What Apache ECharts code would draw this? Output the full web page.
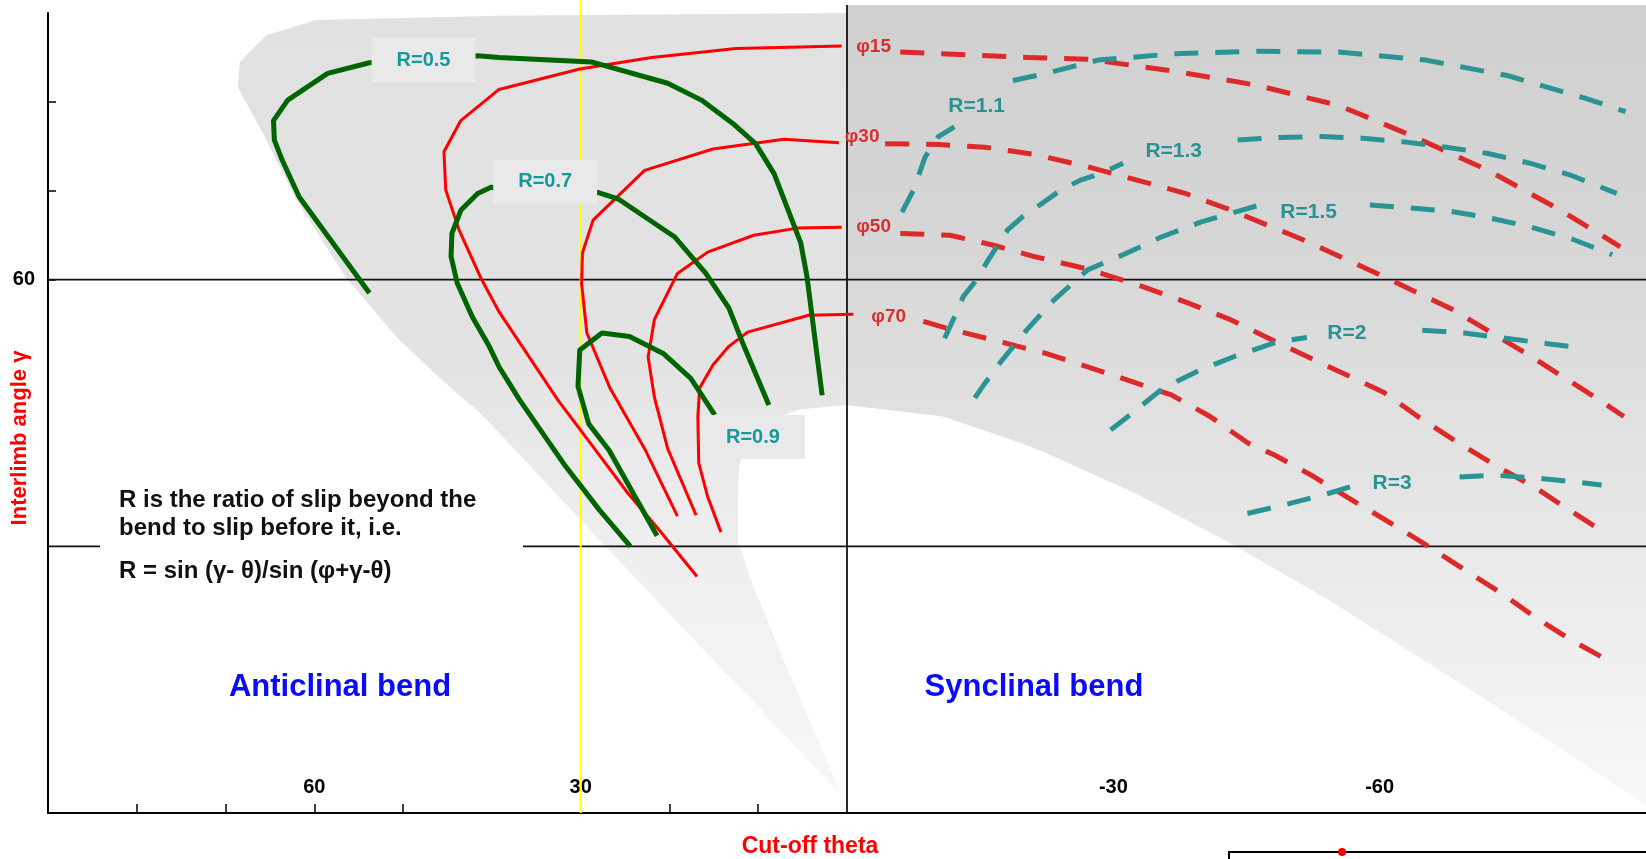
<!DOCTYPE html>
<html>
<head>
<meta charset="utf-8">
<title>Cut-off theta vs interlimb angle</title>
<script src="https://cdn.jsdelivr.net/npm/echarts@6/dist/echarts.min.js"></script>
<style>
html, body { margin: 0; padding: 0; background: #fff; }
#main { width: 1646px; height: 859px; }
</style>
</head>
<body>
<div id="main"></div>
<script>
// points are [theta, gamma]; null = break in a dashed curve (where its label sits)
const greenR05 = [[53.8,58.5],[61.7,69.3],[63.6,73.4],[64.5,75.7],[64.6,77.9],[63.0,80.2],[58.5,83.2],[53.8,84.4],[41.6,85.2],[39.2,85.0],[28.8,84.5],[20.2,82.1],[16.4,80.2],[12.9,77.6],[10.3,75.3],[8.2,71.9],[5.2,64.1],[4.5,60.3],[2.8,47.0]];
const greenR07 = [[24.4,30.0],[27.9,34.1],[31.7,39.0],[36.9,46.5],[39.2,50.2],[40.3,52.5],[42.2,55.8],[43.9,59.6],[44.6,62.6],[44.5,65.2],[43.5,67.8],[41.6,69.7],[40.1,70.4],[28.0,69.8],[25.8,69.1],[19.4,64.8],[15.9,60.7],[13.3,56.8],[11.6,52.5],[8.8,45.9]];
const greenR09 = [[21.4,31.2],[26.8,40.8],[29.1,43.8],[30.3,48.0],[30.1,52.1],[27.6,54.0],[24.5,53.6],[20.7,51.7],[17.6,48.9],[14.9,44.8]];

const redPhi15 = [[16.9,26.6],[21.2,31.9],[24.7,36.0],[28.3,40.8],[32.6,46.5],[39.2,56.4],[41.2,60.1],[43.7,65.6],[45.2,70.1],[45.4,74.4],[43.5,77.9],[39.2,81.4],[30.1,83.7],[22.0,85.0],[12.5,86.0],[0.6,86.3]];
const redPhi30 = [[19.1,33.4],[22.7,40.8],[26.7,47.8],[29.3,54.0],[29.9,59.6],[29.8,63.0],[28.6,66.7],[22.8,72.3],[15.1,74.7],[7.1,75.8],[0.9,75.4]];
const redPhi50 = [[17.0,33.5],[20.2,41.0],[21.7,46.8],[22.4,51.3],[21.7,55.5],[19.1,60.7],[15.7,63.1],[10.5,65.0],[5.6,65.8],[0.6,65.9]];
const redPhi70 = [[14.2,31.6],[15.7,35.6],[16.7,39.4],[16.8,44.6],[16.6,47.8],[15.1,50.4],[13.3,52.5],[11.2,54.1],[4.3,56.0],[-0.7,56.1]];

const dashPhi15 = [[-6.0,85.6],[-13.4,85.3],[-20.2,85.0],[-27.1,84.8],[-36.6,83.5],[-46.0,81.9],[-55.4,79.6],[-63.6,76.2],[-72.2,72.3],[-80.4,67.8],[-87.1,63.7]];
const dashPhi30 = [[-4.3,75.3],[-10.3,75.2],[-15.5,74.9],[-21.1,74.1],[-27.1,72.7],[-33.4,71.0],[-38.1,69.7],[-42.8,68.0],[-51.1,64.6],[-59.7,60.7],[-68.3,56.6],[-76.5,51.7],[-84.7,46.5],[-87.5,44.6]];
const dashPhi50 = [[-6.0,65.2],[-11.6,65.0],[-16.4,63.9],[-21.1,62.6],[-27.1,61.2],[-33.4,59.2],[-38.1,57.5],[-43.2,55.5],[-47.9,53.2],[-55.8,49.5],[-60.5,47.3],[-64.3,44.6],[-68.3,42.0],[-73.2,39.0],[-77.4,36.7],[-80.1,34.9],[-85.7,31.3]];
const dashPhi70 = [[-8.6,55.3],[-12.1,54.3],[-18.1,52.8],[-22.4,51.7],[-27.1,50.2],[-32.2,48.5],[-36.6,47.0],[-40.9,44.6],[-45.2,41.6],[-48.1,40.3],[-52.3,38.0],[-57.4,34.9],[-61.6,32.4],[-65.8,29.8],[-69.5,27.4],[-73.6,24.8],[-77.4,22.1],[-81.5,19.5],[-86.2,16.9]];

const tealR11 = [[-6.2,67.6],[-7.5,70.1],[-8.8,73.8],[-10.3,76.1],[-12.1,77.2],null,[-18.7,82.4],[-22.4,83.2],[-28.3,84.7],[-36.6,85.4],[-46.0,85.7],[-55.4,85.6],[-65.2,84.7],[-74.2,83.0],[-83.2,80.4],[-87.7,78.9]];
const tealR13 = [[-11.0,53.4],[-12.1,55.8],[-13.1,58.1],[-14.6,60.0],[-15.9,62.2],[-18.1,65.6],[-19.8,67.1],[-22.0,68.6],[-24.1,70.1],[-26.3,71.2],[-28.7,72.0],[-31.1,73.1],null,[-44.0,75.7],[-48.7,76.0],[-53.4,76.1],[-58.1,75.9],[-62.8,75.5],[-67.5,74.9],[-72.2,74.2],[-76.9,73.1],[-81.4,71.8],[-86.7,69.7]];
const tealR15 = [[-14.4,46.7],[-15.5,48.3],[-17.2,50.6],[-20.2,54.3],[-23.3,57.7],[-27.1,61.1],[-31.1,62.8],[-35.4,64.8],[-39.9,66.5],[-44.4,67.8],[-46.5,68.4],null,[-58.9,68.4],[-63.2,68.1],[-67.9,67.7],[-72.6,66.9],[-77.1,65.9],[-81.6,64.6],[-86.2,62.8]];
const tealR2 = [[-29.7,43.1],[-31.9,44.8],[-35.6,47.8],[-39.7,49.8],[-44.0,51.5],[-48.5,53.0],[-51.8,53.5],null,[-64.8,54.3],[-69.5,54.0],[-74.2,53.4],[-78.9,52.8],[-81.4,52.5]];
const tealR3 = [[-45.1,33.7],[-49.8,34.8],[-54.4,36.0],[-56.7,36.7],null,[-69.0,37.8],[-72.9,38.0],[-77.6,37.7],[-82.4,37.2],[-85.0,36.9]];

// shaded field behind the curves
const bgLeft = [[68.4,84.5],[65.4,87.5],[59.8,89.2],[39.2,89.7],[0,90.0],[0,45.9],[5.4,45.4],[9.9,43.7],[11.6,41.4],[12.2,38.6],[12.3,30.7],[10.7,25.9],[7.3,17.6],[0.7,2.1],[27.9,30.7],[41.0,44.7],[45.5,48.6],[50.5,53.3],[56.4,60.2],[62.0,68.9],[65.8,76.5],[68.6,81.6]];
const bgRight = [[0,90.9],[-90,90.9],[-90,0.9],[-71.1,13.3],[-54.2,24.0],[-43.1,30.4],[-32.4,36.0],[-21.7,40.8],[-19.7,41.6],[-10.8,44.6],[0,45.9]];

// labels: [text, theta, gamma]
const boxLabels = [['R=0.5', 47.7, 84.7], ['R=0.7', 34.0, 71.0], ['R=0.9', 10.6, 42.3]];
const tealLabels = [['R=1.1', -14.6, 79.5], ['R=1.3', -36.8, 74.4], ['R=1.5', -52.0, 67.6], ['R=2', -56.3, 54.0], ['R=3', -61.4, 37.1]];
const phiLabels = [['φ15', -3.0, 86.2], ['φ30', -1.7, 76.1], ['φ50', -3.0, 65.9], ['φ70', -4.7, 55.8]];

const xTickLabels = [60, 30, -30, -60];
const xTicks = [80, 70, 60, 50, 20, 10];
const yTickLabels = [60];
const yTicks = [60, 70, 80];
const gammaGuides = [60, 30];

const FONT = 'Liberation Sans, Arial, sans-serif';
const GREEN = '#006400', RED = '#ff0000', RED_DASH = '#dc2a2a', TEAL = '#2a9494';

function curve(data, color, width, dashed, z) {
    return {
        type: 'line',
        data: data.map(p => p || ['-', '-']),
        symbol: 'none',
        silent: true,
        clip: false,
        z: z,
        lineStyle: { color: color, width: width, type: dashed ? [24, 17] : 'solid', cap: 'butt', join: 'round' }
    };
}

function area(points, stops) {
    return {
        type: 'custom',
        coordinateSystem: 'cartesian2d',
        clip: false,
        silent: true,
        z: 1,
        data: [[0, 0]],
        renderItem: (params, api) => ({
            type: 'polygon',
            shape: { points: points.map(p => api.coord(p)) },
            style: { fill: new echarts.graphic.LinearGradient(0, 0, 0, 1, stops) }
        })
    };
}

function labels(list, style, z) {
    return {
        type: 'scatter',
        data: list.map(l => [l[1], l[2], l[0]]),
        symbolSize: 1,
        itemStyle: { color: 'rgba(0,0,0,0)', opacity: 1 },
        silent: true,
        z: z,
        label: Object.assign({
            show: true,
            position: 'inside',
            opacity: 1,
            formatter: p => p.value[2],
            fontFamily: FONT,
            fontWeight: 'bold'
        }, style)
    };
}

const series = [
    area(bgLeft, [
        { offset: 0, color: '#e1e1e1' }, { offset: 0.45, color: '#e3e3e3' },
        { offset: 0.6, color: '#ebebeb' }, { offset: 0.8, color: '#f2f2f2' }, { offset: 1, color: '#f7f7f7' }
    ]),
    area(bgRight, [
        { offset: 0, color: '#d0d0d0' }, { offset: 0.3, color: '#d6d6d6' },
        { offset: 0.55, color: '#e2e2e2' }, { offset: 0.75, color: '#ececec' }, { offset: 1, color: '#f8f8f8' }
    ])
];

gammaGuides.forEach(g => series.push(curve([[90, g], [-90, g]], '#111', 1.8, false, 2)));
series.push(curve([[0, 0], [0, 90.9]], '#111', 1.8, false, 2));
series.push(curve([[30, 0], [30, 91.5]], '#ffff00', 2, false, 3));

[redPhi15, redPhi30, redPhi50, redPhi70].forEach(d => series.push(curve(d, RED, 3, false, 4)));
[greenR05, greenR07, greenR09].forEach(d => series.push(curve(d, GREEN, 5, false, 5)));
[dashPhi15, dashPhi30, dashPhi50, dashPhi70].forEach(d => series.push(curve(d, RED_DASH, 5, true, 4)));
[tealR11, tealR13, tealR15, tealR2, tealR3].forEach(d => series.push(curve(d, TEAL, 5, true, 5)));

series.push(labels(boxLabels, { fontSize: 20, color: '#159a9a', backgroundColor: '#e9e9e9', padding: [12, 25] }, 10));
series.push(labels(tealLabels, { fontSize: 21, color: '#2a9292' }, 10));
series.push(labels(phiLabels, { fontSize: 19, color: '#d63030' }, 10));

const option = {
    animation: false,
    backgroundColor: '#fff',
    grid: { left: 48, right: 0, top: 13, bottom: 46 },
    xAxis: {
        type: 'value', min: -90, max: 90, inverse: true,
        splitLine: { show: false },
        axisLine: { show: true, onZero: false, lineStyle: { color: '#000', width: 2 } },
        axisTick: { show: true, inside: true, length: 9, customValues: xTicks, lineStyle: { color: '#000', width: 1.5 } },
        axisLabel: { inside: true, margin: 16, customValues: xTickLabels, color: '#000', fontSize: 20, fontWeight: 'bold', fontFamily: FONT }
    },
    yAxis: {
        type: 'value', min: 0, max: 90,
        splitLine: { show: false },
        axisLine: { show: true, onZero: false, lineStyle: { color: '#000', width: 2 } },
        axisTick: { show: true, inside: true, length: 8, customValues: yTicks, lineStyle: { color: '#000', width: 1.5 } },
        axisLabel: { margin: 13, customValues: yTickLabels, color: '#000', fontSize: 20, fontWeight: 'bold', fontFamily: FONT }
    },
    graphic: [
        { type: 'rect', z: 100, shape: { x: 100, y: 478, width: 423, height: 110 }, style: { fill: '#fff' } },
        { type: 'text', z: 101, x: 119, y: 500, style: { text: 'R is the ratio of slip beyond the', font: 'bold 24px ' + FONT, fill: '#111', verticalAlign: 'middle', textVerticalAlign: 'middle' } },
        { type: 'text', z: 101, x: 119, y: 528, style: { text: 'bend to slip before it, i.e.', font: 'bold 24px ' + FONT, fill: '#111', verticalAlign: 'middle', textVerticalAlign: 'middle' } },
        { type: 'text', z: 101, x: 119, y: 571, style: { text: 'R = sin (γ- θ)/sin (φ+γ-θ)', font: 'bold 24px ' + FONT, fill: '#111', verticalAlign: 'middle', textVerticalAlign: 'middle' } },
        { type: 'text', z: 101, x: 340, y: 687, style: { text: 'Anticlinal bend', font: 'bold 31px ' + FONT, fill: '#0a0aff', align: 'center', textAlign: 'center', verticalAlign: 'middle', textVerticalAlign: 'middle' } },
        { type: 'text', z: 101, x: 1034, y: 687, style: { text: 'Synclinal bend', font: 'bold 31px ' + FONT, fill: '#0a0aff', align: 'center', textAlign: 'center', verticalAlign: 'middle', textVerticalAlign: 'middle' } },
        { type: 'text', z: 101, x: 810, y: 847, style: { text: 'Cut-off theta', font: 'bold 23px ' + FONT, fill: '#ff0000', align: 'center', textAlign: 'center', verticalAlign: 'middle', textVerticalAlign: 'middle' } },
        { type: 'text', z: 101, x: 20, y: 438, rotation: Math.PI / 2, style: { text: 'Interlimb angle γ', font: 'bold 22px ' + FONT, fill: '#ff0000', align: 'center', textAlign: 'center', verticalAlign: 'middle', textVerticalAlign: 'middle' } },
        { type: 'rect', z: 101, shape: { x: 1229, y: 852, width: 440, height: 40 }, style: { fill: 'none', stroke: '#000', lineWidth: 2 } },
        { type: 'circle', z: 102, shape: { cx: 1342, cy: 852, r: 4 }, style: { fill: '#ff0000' } }
    ],
    series: series
};

const chart = echarts.init(document.getElementById('main'));
chart.setOption(option);
</script>
</body>
</html>
